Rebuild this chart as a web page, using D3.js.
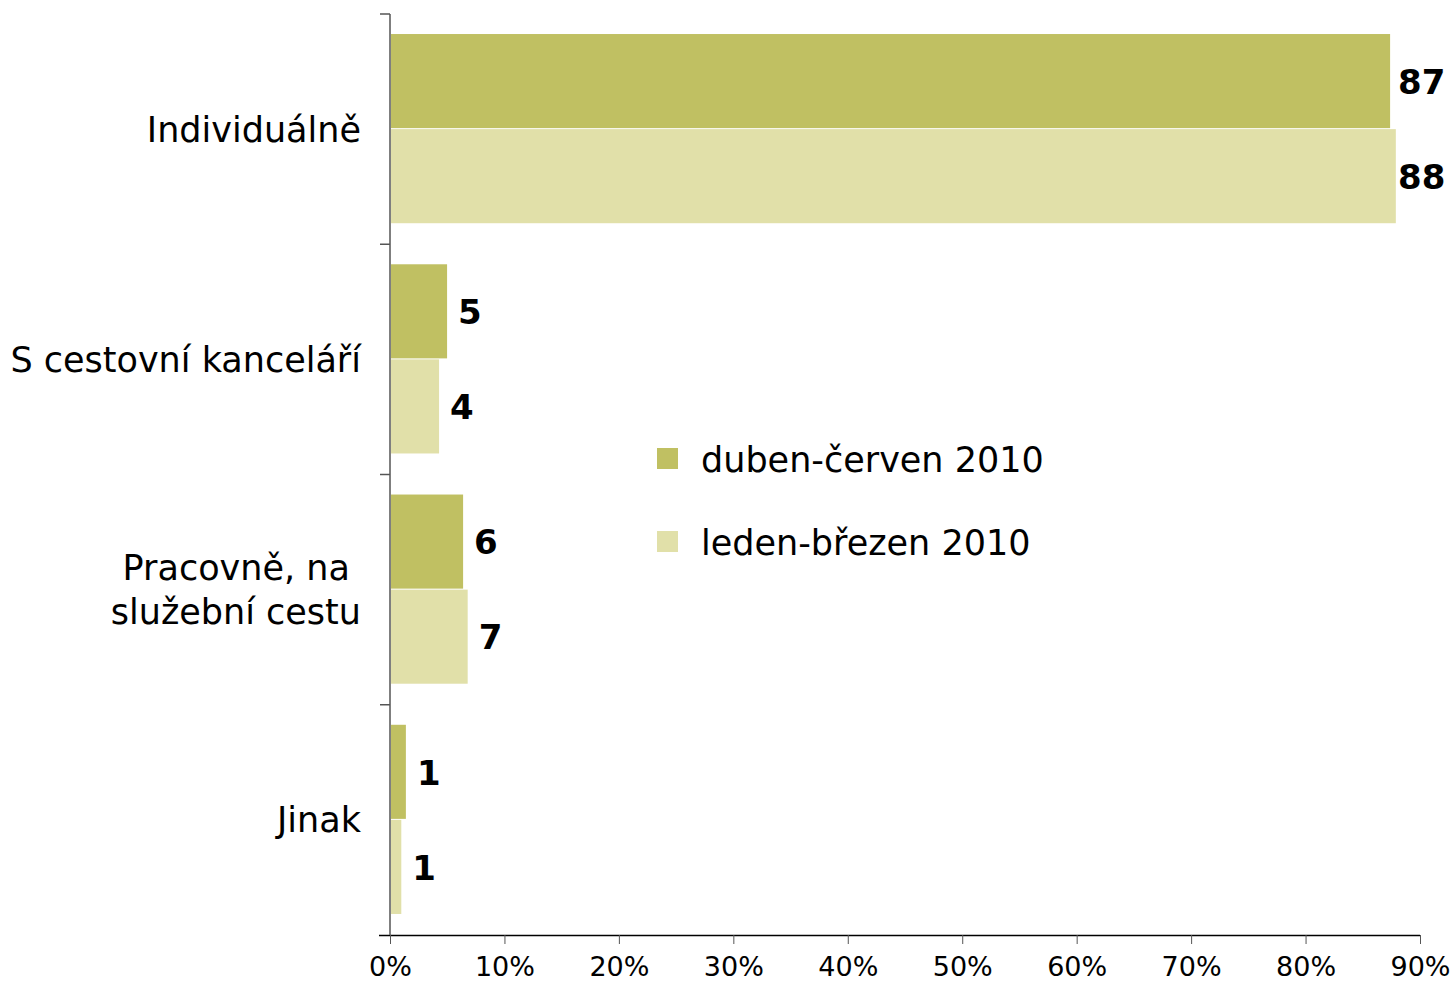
<!DOCTYPE html>
<html>
<head>
<meta charset="utf-8">
<script src="https://cdn.jsdelivr.net/npm/d3@7"></script>
<style>
	body { margin: 0; background: #fff; }
	text { font-family: 'DejaVu Sans', Verdana, sans-serif; }
</style>
</head>
<body>
<svg id="chart" width="1454" height="987"></svg>
<script>
'use strict'

const categories = ['Individuálně', 'S cestovní kanceláří', 'Pracovně, na \nslužební cestu', 'Jinak']
const seriesNames = ['duben-červen 2010', 'leden-březen 2010']
const seriesColors = ['#c0c062', '#e1e0a9']
const aprJun = [87.3, 4.9, 6.3, 1.3]
const janMar = [87.8, 4.2, 6.7, 0.9]
const valueLabels = [[87, 5, 6, 1], [88, 4, 7, 1]]
const xTicks = [0, 10, 20, 30, 40, 50, 60, 70, 80, 90]

const margin = {top: 14, right: 34, bottom: 52, left: 390}
const width = 1454
const height = 987
const series = [aprJun, janMar]

const svg = d3.select('#chart')

const x = d3.scaleLinear()
	.domain([0, 90])
	.range([margin.left, width - margin.right])

const y0 = d3.scaleBand()
	.domain(categories)
	.range([margin.top, height - margin.bottom])
	.paddingInner(0.174)
	.paddingOuter(0.087)

const y1 = d3.scaleBand()
	.domain(d3.range(series.length))
	.range([0, y0.bandwidth()])

// bars
const groups = svg.append('g')
	.selectAll('g')
	.data(categories)
	.join('g')
	.attr('transform', (d) => `translate(0, ${y0(d)})`)

groups.selectAll('rect')
	.data((d, i) => series.map((s, k) => ({k, v: s[i], label: valueLabels[k][i]})))
	.join('rect')
	.attr('x', x(0) + 1)
	.attr('y', (d) => y1(d.k))
	.attr('width', (d) => x(d.v) - x(0))
	.attr('height', y1.bandwidth() - 1)
	.attr('fill', (d) => seriesColors[d.k])

// labels near the right edge get pulled back so they stay inside
groups.selectAll('text')
	.data((d, i) => series.map((s, k) => ({k, v: s[i], label: valueLabels[k][i]})))
	.join('text')
	.attr('x', (d) => Math.min(x(d.v) + 12, width - margin.right - 22))
	.attr('y', (d) => y1(d.k) + y1.bandwidth() / 2)
	.attr('dy', '0.36em')
	.attr('font-size', 34)
	.attr('font-weight', 'bold')
	.text((d) => d.label)

// x axis
const xAxis = svg.append('g')
	.attr('transform', `translate(0, ${height - margin.bottom})`)
	.call(d3.axisBottom(x).tickValues(xTicks).tickFormat((d) => d + '%').tickSize(9).tickPadding(13))
xAxis.select('.domain').attr('d', `M${margin.left - 11},0.5H${width - margin.right}`).attr('stroke', '#000').attr('stroke-width', 1.5)
xAxis.selectAll('.tick line').attr('stroke', '#555')
xAxis.selectAll('text')
	.attr('font-size', 27)
	.attr('font-family', "'DejaVu Sans', Verdana, sans-serif")
	.attr('fill', '#000')

// y axis
const step = y0.step()
const boundaries = d3.range(categories.length + 1).map((i) => margin.top + i * step)
const yAxis = svg.append('g')
yAxis.append('line')
	.attr('x1', margin.left).attr('x2', margin.left)
	.attr('y1', margin.top).attr('y2', height - margin.bottom)
	.attr('stroke', '#555')
	.attr('stroke-width', 1.5)
yAxis.selectAll('.ytick')
	.data(boundaries.slice(0, -1))
	.join('line')
	.attr('class', 'ytick')
	.attr('x1', margin.left - 10).attr('x2', margin.left)
	.attr('y1', (d) => d).attr('y2', (d) => d)
	.attr('stroke', '#555')
	.attr('stroke-width', 1.5)

const catLabels = yAxis.selectAll('.ylabel')
	.data(categories)
	.join('text')
	.attr('class', 'ylabel')
	.attr('text-anchor', 'end')
	.attr('font-size', 35)
	.attr('fill', '#000')
	.attr('y', (d) => y0(d) + y0.bandwidth() / 2)

catLabels.each(function(d) {
	const lines = d.split('\n')
	const lh = 44
	const t = d3.select(this)
	lines.forEach((ln, i) => {
		t.append('tspan')
			.attr('x', margin.left - 29)
			.attr('y', y0(d) + y0.bandwidth() / 2 + (i - (lines.length - 1) / 2) * lh)
			.attr('dy', '0.36em')
			.text(ln.replace(/ $/, '\u00a0'))
	})
})

// legend
const legend = svg.append('g')
	.selectAll('g')
	.data(seriesNames)
	.join('g')
	.attr('transform', (d, i) => `translate(657, ${448 + i * 83})`)
legend.append('rect')
	.attr('width', 21)
	.attr('height', 21)
	.attr('fill', (d, i) => seriesColors[i])
legend.append('text')
	.attr('x', 44)
	.attr('y', 11)
	.attr('dy', '0.36em')
	.attr('font-size', 35)
	.text((d) => d)
</script>
</body>
</html>
